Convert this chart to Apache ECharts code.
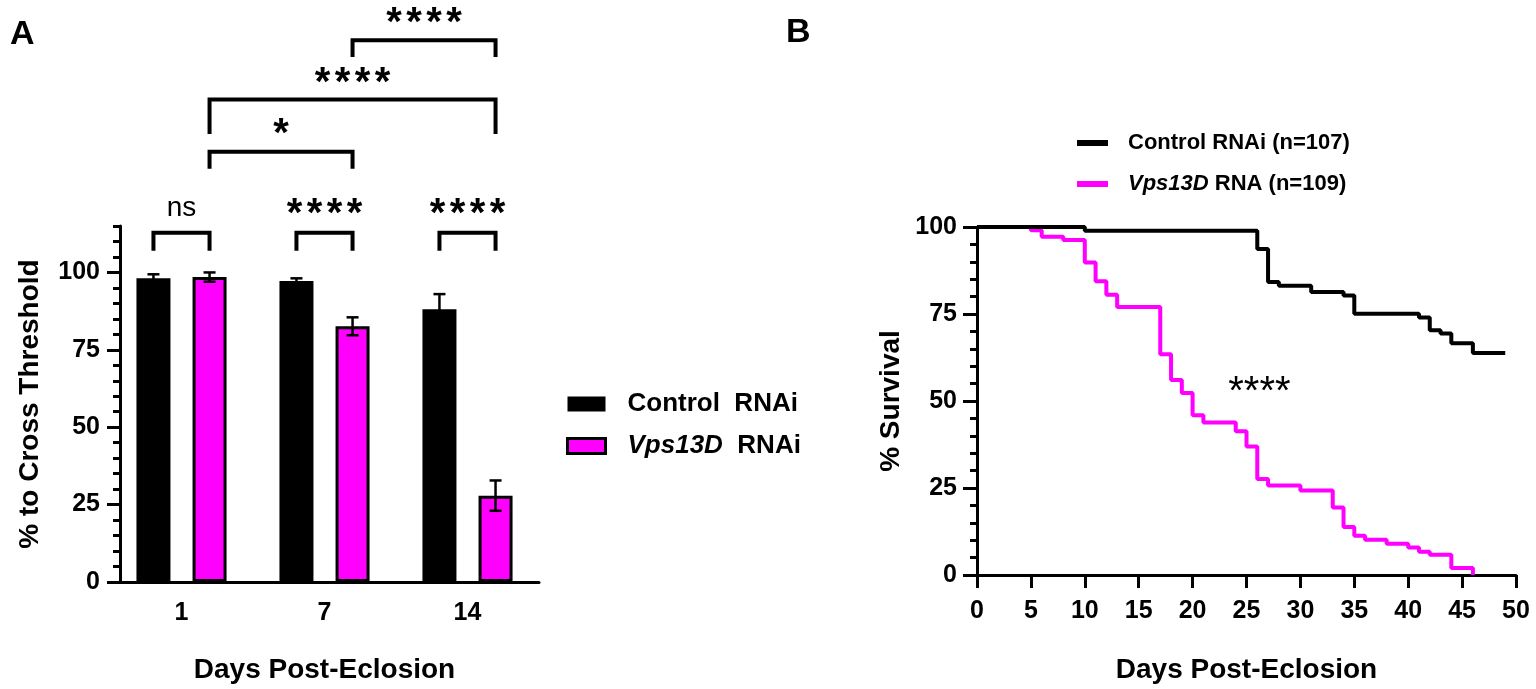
<!DOCTYPE html>
<html>
<head>
<meta charset="utf-8">
<script src="https://cdn.jsdelivr.net/npm/echarts@6/dist/echarts.min.js"></script>
<style>
  html, body { margin: 0; padding: 0; background: #fff; }
  #main { width: 1536px; height: 689px; }
</style>
</head>
<body>
<div id="main"></div>
<script>
// ---- panel A: % to cross threshold ----
const days = ['1', '7', '14'];
const controlMean = [98.1, 97.2, 88.1];
const controlSem = [1.3, 0.9, 4.9];
const vpsMean = [98.5, 82.6, 27.9];
const vpsSem = [1.5, 2.9, 4.9];

// brackets: [left day index, left bar (-1 control / 1 vps), right day index, right bar, top, leg bottom, label y]
const brackets = [
  [0, -1, 0, 1, 112.8, 107, 120.7],
  [1, -1, 1, 1, 112.8, 107, 120.7],
  [2, -1, 2, 1, 112.8, 107, 120.7],
  [0, 1, 1, 1, 139, 133.5, 146.6],
  [0, 1, 2, 1, 155.9, 144.7, 163.2],
  [1, 1, 2, 1, 175, 169.6, 182.4]
];
const bracketLabels = ['ns', '****', '****', '*', '****', '****'];

// ---- panel B: survival ----
const controlDays = [0, 10, 26, 27, 28, 31, 34, 35, 41, 42, 43, 44, 46, 49];
const controlSurv = [100, 98.9, 93.7, 84.2, 83.1, 81.3, 80.3, 75.1, 74, 70.3, 69.4, 66.6, 63.8, 63.8];
const vpsDays = [0, 5, 6, 8, 10, 11, 12, 13, 17, 18, 19, 20, 21, 24, 25, 26, 27, 30, 33, 34, 35, 36, 38, 40, 41, 42, 44, 46];
const vpsSurv = [100, 99.1, 97.2, 96.3, 89.8, 84.4, 80.5, 77, 63.4, 56, 52.3, 45.9, 43.8, 41.3, 36.9, 27.6, 25.7, 24.3, 19.4, 13.8, 11.3, 10.1, 9, 7.9, 6.7, 5.8, 2, 0];
const survivalStarsAt = [26.2, 55.3];

const FONT = 'Liberation Sans, Arial, sans-serif';
const MAGENTA = '#ff00ff';
const BAR_W = 34;
const BAR_GAP = 0.65;
const barOffset = BAR_W * (1 + BAR_GAP) / 2;
const STAR_STEP = 20;

const zip = (xs, ys) => xs.map((x, i) => [x, ys[i]]);

const chart = echarts.init(document.getElementById('main'));

const axisLine = { show: true, lineStyle: { color: '#000', width: 3 } };
const labelStyle = { color: '#000', fontSize: 25, fontWeight: 'bold', fontFamily: FONT };
const nameStyle = { color: '#000', fontSize: 28, fontWeight: 'bold', fontFamily: FONT };

chart.setOption({
  animation: false,
  backgroundColor: '#fff',
  grid: [
    { left: 110, top: 226, width: 429, height: 360 },
    { left: 977, top: 227, width: 539, height: 359 }
  ],
  graphic: [
    { type: 'text', left: 10, top: 18, style: { text: 'A', font: 'bold 34px ' + FONT, fill: '#000' } },
    { type: 'text', left: 786, top: 16, style: { text: 'B', font: 'bold 34px ' + FONT, fill: '#000' } }
  ],
  legend: [
    {
      orient: 'vertical', left: 566, top: 391, itemWidth: 38, itemHeight: 15, itemGap: 16,
      padding: 0, icon: 'rect',
      data: [
        { name: 'Control RNAi' },
        { name: 'Vps13D RNAi', itemStyle: { borderColor: '#000', borderWidth: 3 } }
      ],
      formatter: n => n === 'Control RNAi' ? '{p|}{t|Control  RNAi}' : '{p|}{i|Vps13D}{t|  RNAi}',
      textStyle: {
        color: '#000', fontSize: 26, fontWeight: 'bold', fontFamily: FONT,
        rich: {
          p: { width: 17 },
          t: { fontSize: 26, fontWeight: 'bold', fontFamily: FONT, color: '#000' },
          i: { fontSize: 26, fontWeight: 'bold', fontStyle: 'italic', fontFamily: FONT, color: '#000' }
        }
      }
    },
    {
      orient: 'vertical', left: 1077, top: 132, itemWidth: 31, itemHeight: 6, itemGap: 19,
      padding: 0, icon: 'rect',
      data: ['Control RNAi (n=107)', 'Vps13D RNA (n=109)'],
      formatter: n => n === 'Control RNAi (n=107)' ? '{p|}{t|Control RNAi (n=107)}' : '{p|}{i|Vps13D}{t| RNA (n=109)}',
      textStyle: {
        color: '#000', fontSize: 22, fontWeight: 'bold', fontFamily: FONT,
        rich: {
          p: { width: 15 },
          t: { fontSize: 22, fontWeight: 'bold', fontFamily: FONT, color: '#000' },
          i: { fontSize: 22, fontWeight: 'bold', fontStyle: 'italic', fontFamily: FONT, color: '#000' }
        }
      }
    }
  ],
  xAxis: [
    {
      type: 'category', gridIndex: 0, data: days,
      axisLine: axisLine,
      axisTick: { alignWithLabel: true, length: 10, lineStyle: { width: 3, color: '#000' } },
      axisLabel: Object.assign({ margin: 19 }, labelStyle),
      name: 'Days Post-Eclosion', nameLocation: 'middle', nameGap: 74, nameTextStyle: nameStyle,
      splitLine: { show: false }
    },
    {
      type: 'value', gridIndex: 1, min: 0, max: 50, interval: 5,
      axisLine: axisLine,
      axisTick: { length: 13, lineStyle: { width: 3, color: '#000' } },
      axisLabel: Object.assign({ margin: 24 }, labelStyle),
      name: 'Days Post-Eclosion', nameLocation: 'middle', nameGap: 81, nameTextStyle: nameStyle,
      splitLine: { show: false }
    }
  ],
  yAxis: [
    {
      type: 'value', gridIndex: 0, position: 'left', min: 0, max: 115, interval: 5, offset: -10,
      axisLine: axisLine,
      axisTick: { show: true, length: 7, lineStyle: { width: 3, color: '#000' } },
      axisLabel: { show: false },
      splitLine: { show: false }
    },
    {
      type: 'value', gridIndex: 0, position: 'left', min: 0, max: 115, offset: -10,
      axisLine: { show: false },
      axisTick: { show: true, length: 13, customValues: [0, 25, 50, 75, 100], lineStyle: { width: 3, color: '#000' } },
      axisLabel: Object.assign({ margin: 20, customValues: [0, 25, 50, 75, 100] }, labelStyle),
      name: '% to Cross Threshold', nameLocation: 'middle', nameGap: 76, nameTextStyle: nameStyle,
      splitLine: { show: false }
    },
    {
      type: 'value', gridIndex: 1, min: 0, max: 100, interval: 25,
      axisLine: axisLine,
      axisTick: { length: 14, lineStyle: { width: 3, color: '#000' } },
      minorTick: { show: true, splitNumber: 5, length: 7, lineStyle: { width: 3, color: '#000' } },
      axisLabel: Object.assign({ margin: 20 }, labelStyle),
      name: '% Survival', nameLocation: 'middle', nameGap: 72, nameTextStyle: nameStyle,
      splitLine: { show: false }
    }
  ],
  series: [
    {
      name: 'Control RNAi', type: 'bar', xAxisIndex: 0, yAxisIndex: 0,
      data: controlMean, barWidth: BAR_W, barGap: (BAR_GAP * 100) + '%',
      itemStyle: { color: '#000' }
    },
    {
      name: 'Vps13D RNAi', type: 'bar', xAxisIndex: 0, yAxisIndex: 0,
      data: vpsMean, barWidth: BAR_W,
      itemStyle: { color: MAGENTA, borderColor: '#000', borderWidth: 3 }
    },
    {
      // error bars (mean ± SEM)
      type: 'custom', xAxisIndex: 0, yAxisIndex: 0, z: 5,
      data: controlMean.map((m, i) => [i, m, controlSem[i], -1])
        .concat(vpsMean.map((m, i) => [i, m, vpsSem[i], 1])),
      renderItem: function (params, api) {
        const cat = api.value(0), m = api.value(1), s = api.value(2), side = api.value(3);
        const x = api.coord([cat, m])[0] + side * barOffset;
        const yHi = api.coord([cat, m + s])[1];
        const yLo = api.coord([cat, m - s])[1];
        const st = { stroke: '#000', lineWidth: 2.5 };
        return {
          type: 'group',
          children: [
            { type: 'line', shape: { x1: x, y1: yHi, x2: x, y2: yLo }, style: st },
            { type: 'line', shape: { x1: x - 6, y1: yHi, x2: x + 6, y2: yHi }, style: st },
            { type: 'line', shape: { x1: x - 6, y1: yLo, x2: x + 6, y2: yLo }, style: st }
          ]
        };
      }
    },
    {
      // significance brackets
      type: 'custom', xAxisIndex: 0, yAxisIndex: 0, z: 6, clip: false,
      data: brackets,
      renderItem: function (params, api) {
        const xl = api.coord([api.value(0), 0])[0] + api.value(1) * barOffset;
        const xr = api.coord([api.value(2), 0])[0] + api.value(3) * barOffset;
        const yt = api.coord([0, api.value(4)])[1];
        const yb = api.coord([0, api.value(5)])[1];
        const yl = api.coord([0, api.value(6)])[1];
        const label = bracketLabels[params.dataIndex];
        const cx = (xl + xr) / 2;
        const st = { stroke: '#000', lineWidth: 4, fill: null };
        const children = [
          { type: 'polyline', shape: { points: [[xl, yb], [xl, yt], [xr, yt], [xr, yb]] }, style: st }
        ];
        if (label === 'ns') {
          children.push({
            type: 'text',
            style: { text: label, x: cx, y: yl, align: 'center', verticalAlign: 'middle', fill: '#000', font: '28px ' + FONT }
          });
        } else {
          const n = label.length;
          for (let k = 0; k < n; k++) {
            children.push({
              type: 'text',
              style: {
                text: '*', x: cx + (k - (n - 1) / 2) * STAR_STEP, y: yl + 7,
                align: 'center', verticalAlign: 'middle', fill: '#000', font: 'bold 40px ' + FONT
              }
            });
          }
        }
        return { type: 'group', children: children };
      }
    },
    {
      name: 'Vps13D RNA (n=109)', type: 'line', xAxisIndex: 1, yAxisIndex: 2,
      data: zip(vpsDays, vpsSurv), step: 'end', showSymbol: false, symbol: 'none',
      color: MAGENTA, lineStyle: { color: MAGENTA, width: 4 }
    },
    {
      name: 'Control RNAi (n=107)', type: 'line', xAxisIndex: 1, yAxisIndex: 2,
      data: zip(controlDays, controlSurv), step: 'end', showSymbol: false, symbol: 'none',
      color: '#000', lineStyle: { color: '#000', width: 4 }
    },
    {
      type: 'custom', xAxisIndex: 1, yAxisIndex: 2, z: 6,
      data: [survivalStarsAt],
      renderItem: function (params, api) {
        const p = api.coord([api.value(0), api.value(1)]);
        return {
          type: 'text',
          style: { text: '****', x: p[0], y: p[1] + 10, align: 'center', verticalAlign: 'middle', fill: '#000', font: '40px ' + FONT }
        };
      }
    }
  ]
});
</script>
</body>
</html>
